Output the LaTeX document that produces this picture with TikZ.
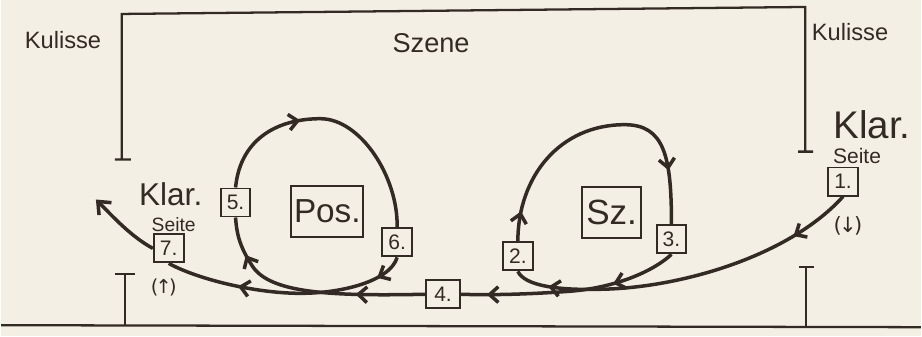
\documentclass[tikz,border=0pt]{standalone}
\usepackage{fontspec}
\setmainfont{Liberation Sans}
\newfontfamily\arrowfont{DejaVu Sans}
\usetikzlibrary{arrows.meta, positioning, decorations.markings}
\definecolor{paper}{RGB}{244,239,228}
\definecolor{ink}{RGB}{52,42,37}

\begin{document}
\begin{tikzpicture}[
    x=0.02cm, y=0.02cm,
    wall/.style={ink, line width=1.3pt},
    way/.style={ink, line width=2pt},
    station/.style={draw=ink, fill=paper, line width=1.1pt, minimum width=17pt, minimum height=16pt, inner sep=1.5pt, text=ink, font=\fontsize{12}{12}\selectfont},
    area/.style={station, minimum width=34pt, minimum height=29pt},
    note/.style={text=ink, inner sep=0pt},
    flowat/.style={postaction={decorate, decoration={markings, mark=at position #1 with {\arrow{Straight Barb[length=5pt, width=9pt]}}}}}
]

\fill[paper] (0,0) rectangle (922,337);

% stage and wings
\draw[wall] (114,177) -- (130,177) (121,177) -- (121,323) -- (806,330) -- (806,185) (799,185) -- (814,185);
\draw[wall] (0,11) -- (922,9);
\draw[wall] (124,11) -- (124,62) (114,62) -- (134,62);
\draw[wall] (807,9) -- (807,69) (800,69) -- (815,69);

\node[note, font=\fontsize{13.5}{14}\selectfont] (kulisseL) at (62,297) {Kulisse};
\node[note, font=\fontsize{13.5}{14}\selectfont] (kulisseR) at (851,305) {Kulisse};
\node[note, font=\fontsize{15.5}{16}\selectfont] (szene) at (431,294) {Szene};

\node[note, font=\fontsize{22}{22}\selectfont] (klarR) at (873,212) {Klar.};
\node[note, font=\fontsize{12}{12}\selectfont] (seiteR) at (858,181) {Seite};
\node[note, font=\arrowfont\fontsize{12}{12}\selectfont] (downR) at (849,111) {(\kern-1.5pt↓\kern-1.5pt)};

\node[note, font=\fontsize{18}{18}\selectfont] (klarL) at (170,142) {Klar.};
\node[note, font=\fontsize{11}{11}\selectfont] (seiteL) at (173,112) {Seite};
\node[note, font=\arrowfont\fontsize{11}{11}\selectfont] (upL) at (163,49) {(\kern-1.5pt↑\kern-1.5pt)};

\node[area, font=\fontsize{19}{19}\selectfont] (pos) at (327,125) {Pos.};
\node[area, font=\fontsize{20}{20}\selectfont] (sz) at (612,124) {Sz.};

\node[station] (s1) at (844,155) {1.};
\node[station] (s2) at (518,80) {2.};
\node[station] (s3) at (672,97) {3.};
\node[station, minimum width=19pt] (s4) at (443,42) {4.};
\node[station] (s5) at (235,134) {5.};
\node[station] (s6) at (397,94) {6.};
\node[station] (s7) at (168,88) {7.};
\coordinate (tip) at (95,137);

\draw[way, flowat=.18, flowat=.9] (s1.south) .. controls (790,80) and (680,48) .. (600,47) .. controls (560,46) and (525,50) .. (s2.south);
\draw[way, flowat=.1, flowat=.82] (s2.north) .. controls (518,160) and (560,212) .. (625,212) .. controls (665,212) and (672,180) .. (s3.north);
\draw[way, flowat=.3, flowat=.88] (s3.south) .. controls (650,62) and (610,48) .. (570,45) .. controls (530,42) and (490,41) .. (s4.east);
\draw[way, flowat=.3, flowat=.83] (s4.west) .. controls (330,40) and (270,43) .. (252,70) .. controls (238,91) and (236,105) .. (s5.south);
\draw[way, flowat=.38] (s5.north) .. controls (240,200) and (280,218) .. (320,218) .. controls (360,218) and (398,160) .. (s6.north);
\draw[way, flowat=.12, flowat=.7] (s6.south) .. controls (390,55) and (340,42) .. (295,43) .. controls (250,44) and (195,58) .. (s7.south);
\draw[way, -{Straight Barb[length=6pt, width=10pt]}] (s7.west) .. controls (130,100) and (112,120) .. (tip);

\end{tikzpicture}
\end{document}
